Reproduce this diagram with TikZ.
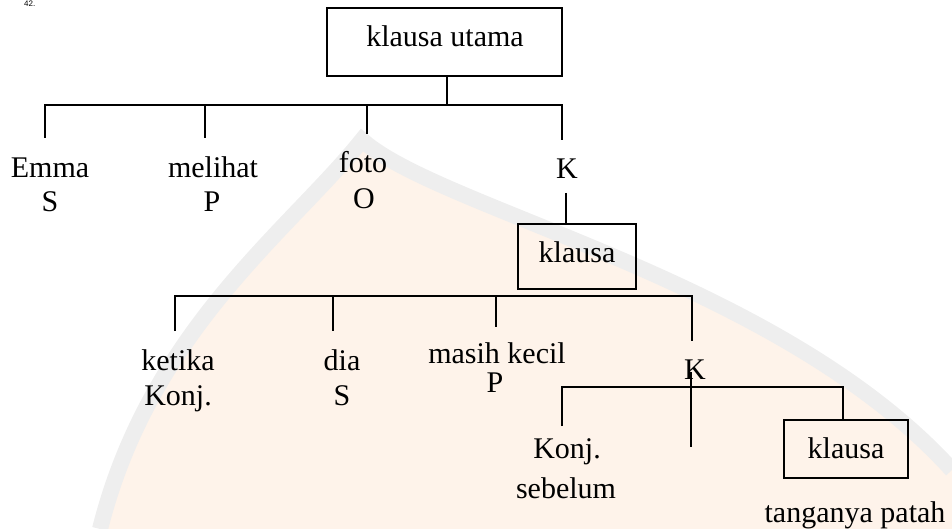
\documentclass[tikz,border=0pt]{standalone}
\usepackage{fontspec}
\setmainfont{Liberation Serif}
\newfontfamily\pagefont{Liberation Sans}
\definecolor{wmpeach}{RGB}{254,243,234}
\definecolor{wmgray}{RGB}{238,238,238}
\begin{document}
\begin{tikzpicture}[x=1pt,y=-1pt,
  lbl/.style={font=\fontsize{30}{34}\selectfont, inner sep=0pt, anchor=base},
  box/.style={draw, line width=1.3pt, inner sep=0pt},
  tie/.style={line width=1.3pt}]
\useasboundingbox (0,0) rectangle (952,529);

% faint emblem in the background
\fill[wmpeach] (100,529) .. controls (150,330) and (290,230) .. (362,140)
  .. controls (440,210) and (780,280) .. (952,470) -- (952,529) -- cycle;
\draw[wmgray, line width=16pt] (100,529) .. controls (150,330) and (290,230) .. (362,140)
  .. controls (440,210) and (780,280) .. (952,470);

% page number in the top corner
\node[font=\pagefont\fontsize{8}{9}\selectfont, anchor=north west, inner sep=0pt] (pg) at (24,0.5) {42.};

% main clause
\node[box, minimum width=235pt, minimum height=68pt] (utama) at (444.5,42) {};
\node[lbl] (utamat) at (445,47) {klausa utama};

\coordinate (b1) at (447,105);
\coordinate (b1l) at (45,105);
\coordinate (b1r) at (562,105);
\coordinate (d1) at (45,138);
\coordinate (d2) at (205,138);
\coordinate (d3) at (367,134);
\coordinate (d4) at (562,140);
\draw[tie] (utama.south -| b1) -- (b1);
\draw[tie] (d1) -- (b1l) -- (b1r) -- (d4);
\draw[tie] (d2 |- b1) -- (d2);
\draw[tie] (d3 |- b1) -- (d3);

\node[lbl] (emma) at (50,178) {Emma};
\node[lbl] (emmaS) at (50,212) {S};
\node[lbl] (melihat) at (213,178) {melihat};
\node[lbl] (melihatP) at (212,212) {P};
\node[lbl] (foto) at (363,173) {foto};
\node[lbl] (fotoO) at (364,209) {O};
\node[lbl] (k1) at (567,179) {K};

% subordinate clause
\node[box, minimum width=118pt, minimum height=65pt] (klausa1) at (577,256.5) {};
\node[lbl] (klausa1t) at (577,262) {klausa};
\coordinate (k1low) at (566,193);
\draw[tie] (k1low) -- (k1low |- klausa1.north);

\coordinate (b2l) at (175,296);
\coordinate (b2r) at (692,296);
\coordinate (e1) at (175,331);
\coordinate (e2) at (333,331);
\coordinate (e3) at (496,327);
\coordinate (e4) at (692,341);
\draw[tie] (e1) -- (b2l) -- (b2r) -- (e4);
\draw[tie] (e2 |- b2l) -- (e2);
\draw[tie] (e3 |- b2l) -- (e3);

\node[lbl] (ketika) at (178,370) {ketika};
\node[lbl] (ketikaK) at (178,405) {Konj.};
\node[lbl] (dia) at (342,370) {dia};
\node[lbl] (diaS) at (342,405) {S};
\node[lbl] (masih) at (497,363) {masih kecil};
\node[lbl] (masihP) at (495,392) {P};
\node[lbl] (k2) at (695,379) {K};

% clause inside the adverbial
\node[box, minimum width=124pt, minimum height=58pt] (klausa2) at (846,449) {};
\node[lbl] (klausa2t) at (846,458) {klausa};

\coordinate (b3l) at (562,387);
\coordinate (b3r) at (843,387);
\coordinate (f1) at (562,426);
\coordinate (vtop) at (691,372);
\coordinate (vbot) at (691,447);
\draw[tie] (f1) -- (b3l) -- (b3r) -- (b3r |- klausa2.north);
\draw[tie] (vtop) -- (vbot);

\node[lbl] (konj) at (567,458) {Konj.};
\node[lbl] (sebelum) at (566,498) {sebelum};
\node[lbl] (tangan) at (855,522) {tanganya patah};
\end{tikzpicture}
\end{document}
